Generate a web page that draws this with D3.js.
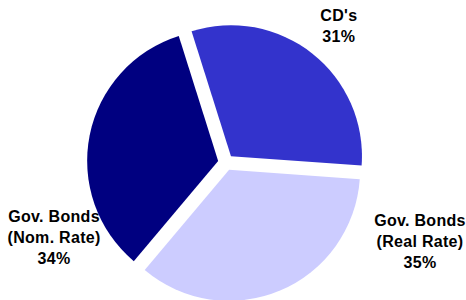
<!DOCTYPE html>
<html>
<head>
<meta charset="utf-8">
<script src="https://cdn.jsdelivr.net/npm/d3@7"></script>
<style>
  body { margin: 0; background: #fff; }
  svg { display: block; }
  text { font-family: Arial, "Liberation Sans", sans-serif; font-weight: bold; font-size: 16px; letter-spacing: 0.3px; fill: #000; }
</style>
</head>
<body>
<div id="chart"></div>
<script>
const categories = ["CD's", "Gov. Bonds\n(Real Rate)", "Gov. Bonds\n(Nom. Rate)"];
const values = [31, 35, 34];
const colors = ["#3333cc", "#ccccff", "#000080"];

// where each data label sits (angle in degrees, distance from centre)
const labelAngles = [39.6, 112.2, 246.4];
const labelDist = [177, 209.5, 187.6];

function drawPie() {
  const width = 466;
  const height = 300;
  const cx = 226, cy = 162.5;
  const radius = 131;
  const explode = 8;

  const svg = d3
    .select("#chart")
    .append("svg")
    .attr("width", width)
    .attr("height", height)
    .append("g")
    .attr("transform", `translate(${cx},${cy})`);

  const data = values.map((v, i) => ({ name: categories[i], value: v, color: colors[i], i }));

  const pie = d3
    .pie()
    .sort(null)
    .value((d) => d.value)
    .startAngle((-17.5 * Math.PI) / 180)
    .endAngle(((360 - 17.5) * Math.PI) / 180);

  const arc = d3.arc().innerRadius(0).outerRadius(radius);
  const arcs = pie(data);

  svg
    .selectAll("path.slice")
    .data(arcs)
    .enter()
    .append("path")
    .attr("class", "slice")
    .attr("d", arc)
    .attr("fill", (d) => d.data.color)
    .attr("transform", (d) => {
      const mid = (d.startAngle + d.endAngle) / 2;
      return `translate(${explode * Math.sin(mid)},${-explode * Math.cos(mid)})`;
    });

  const lineH = 20.7;
  const labels = svg
    .selectAll("text.label")
    .data(arcs)
    .enter()
    .append("text")
    .attr("class", "label")
    .attr("text-anchor", "middle")
    .attr("transform", (d, i) => {
      const a = (labelAngles[i] * Math.PI) / 180;
      return `translate(${labelDist[i] * Math.sin(a)},${-labelDist[i] * Math.cos(a)})`;
    });

  labels.each(function (d) {
    const lines = d.data.name.split("\n").concat([Math.round(d.data.value) + "%"]);
    const n = lines.length;
    d3.select(this)
      .selectAll("tspan")
      .data(lines)
      .enter()
      .append("tspan")
      .attr("x", 0)
      .attr("y", (_, k) => (k - (n - 1) / 2) * lineH + 5.5)
      .text((t) => t);
  });
}

drawPie();
</script>
</body>
</html>
